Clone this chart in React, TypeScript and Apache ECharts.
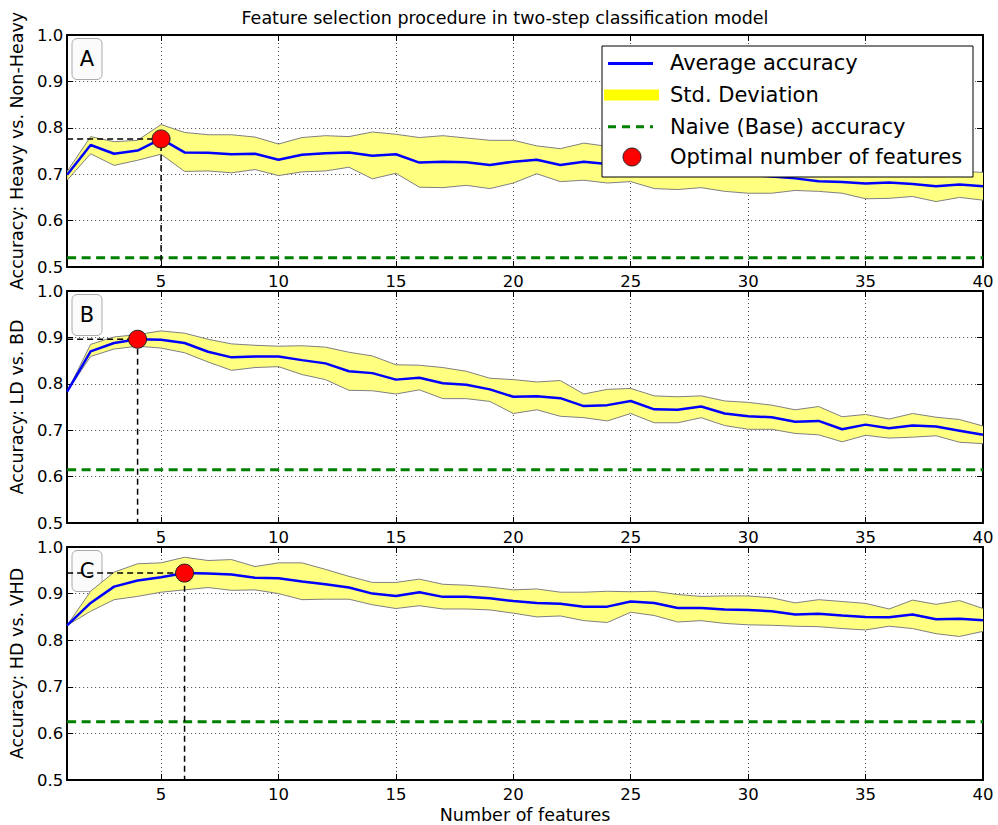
import React, { useEffect, useRef } from "react";
import * as echarts from "echarts";

const FONT = "DejaVu Sans";

const features = [1, 2, 3, 4, 5, 6, 7, 8, 9, 10, 11, 12, 13, 14, 15, 16, 17, 18, 19, 20,
  21, 22, 23, 24, 25, 26, 27, 28, 29, 30, 31, 32, 33, 34, 35, 36, 37, 38, 39, 40];
const xTicks = [5, 10, 15, 20, 25, 30, 35, 40];

const titleText = "Feature selection procedure in two-step classification model";
const xName = "Number of features";
const panelLabels = ["A", "B", "C"];
const yNames = ["Accuracy: Heavy vs. Non-Heavy", "Accuracy: LD vs. BD", "Accuracy: HD vs. VHD"];
const legendNames = ["Average accuracy", "Std. Deviation", "Naive (Base) accuracy", "Optimal number of features"];

// Panel A: Heavy vs Non-Heavy
const meanA = [0.699, 0.763, 0.744, 0.751, 0.776, 0.747, 0.746, 0.743, 0.744, 0.731,
  0.742, 0.745, 0.747, 0.740, 0.743, 0.725, 0.727, 0.726, 0.720, 0.727,
  0.731, 0.720, 0.727, 0.722, 0.716, 0.712, 0.710, 0.707, 0.703, 0.699,
  0.695, 0.691, 0.685, 0.683, 0.680, 0.682, 0.679, 0.674, 0.678, 0.674];
const upperA = [0.706, 0.781, 0.770, 0.773, 0.807, 0.790, 0.785, 0.785, 0.780, 0.765,
  0.779, 0.783, 0.781, 0.791, 0.786, 0.779, 0.783, 0.778, 0.773, 0.773,
  0.761, 0.755, 0.767, 0.760, 0.752, 0.748, 0.746, 0.744, 0.740, 0.737,
  0.733, 0.728, 0.724, 0.720, 0.716, 0.716, 0.712, 0.708, 0.706, 0.704];
const lowerA = [0.687, 0.744, 0.719, 0.730, 0.743, 0.706, 0.707, 0.703, 0.710, 0.697,
  0.705, 0.707, 0.715, 0.690, 0.702, 0.672, 0.671, 0.676, 0.669, 0.681,
  0.701, 0.684, 0.687, 0.681, 0.684, 0.669, 0.667, 0.671, 0.663, 0.659,
  0.659, 0.665, 0.663, 0.659, 0.647, 0.648, 0.652, 0.641, 0.650, 0.644];
const baseA = 0.52;
const optA = 5;

// Panel B: LD vs BD
const meanB = [0.783, 0.870, 0.888, 0.896, 0.895, 0.888, 0.869, 0.857, 0.859, 0.859,
  0.851, 0.844, 0.827, 0.823, 0.809, 0.813, 0.801, 0.798, 0.788, 0.772,
  0.773, 0.769, 0.752, 0.754, 0.763, 0.745, 0.744, 0.751, 0.736, 0.730,
  0.728, 0.718, 0.720, 0.702, 0.712, 0.704, 0.710, 0.708, 0.699, 0.690];
const upperB = [0.783, 0.885, 0.901, 0.906, 0.914, 0.909, 0.896, 0.886, 0.883, 0.881,
  0.882, 0.879, 0.868, 0.860, 0.841, 0.840, 0.835, 0.827, 0.812, 0.809,
  0.804, 0.807, 0.778, 0.788, 0.790, 0.774, 0.772, 0.774, 0.763, 0.760,
  0.754, 0.744, 0.751, 0.729, 0.734, 0.724, 0.736, 0.728, 0.723, 0.709];
const lowerB = [0.783, 0.859, 0.875, 0.881, 0.877, 0.867, 0.847, 0.829, 0.835, 0.837,
  0.820, 0.809, 0.786, 0.785, 0.778, 0.787, 0.768, 0.768, 0.762, 0.736,
  0.744, 0.730, 0.727, 0.720, 0.736, 0.716, 0.716, 0.727, 0.710, 0.702,
  0.702, 0.693, 0.690, 0.675, 0.689, 0.683, 0.685, 0.688, 0.674, 0.671];
const baseB = 0.615;
const optB = 4;

// Panel C: HD vs VHD
const meanC = [0.832, 0.880, 0.915, 0.928, 0.935, 0.944, 0.943, 0.941, 0.934, 0.933,
  0.926, 0.920, 0.913, 0.900, 0.895, 0.903, 0.893, 0.893, 0.890, 0.884,
  0.880, 0.878, 0.872, 0.872, 0.883, 0.880, 0.869, 0.869, 0.866, 0.865,
  0.862, 0.855, 0.857, 0.853, 0.850, 0.849, 0.855, 0.845, 0.846, 0.843];
const upperC = [0.832, 0.905, 0.946, 0.964, 0.966, 0.978, 0.971, 0.973, 0.958, 0.966,
  0.966, 0.952, 0.937, 0.924, 0.924, 0.931, 0.920, 0.918, 0.914, 0.908,
  0.910, 0.903, 0.903, 0.905, 0.904, 0.905, 0.898, 0.894, 0.895, 0.895,
  0.891, 0.880, 0.887, 0.883, 0.879, 0.867, 0.886, 0.877, 0.885, 0.868];
const lowerC = [0.832, 0.862, 0.887, 0.894, 0.903, 0.908, 0.913, 0.907, 0.908, 0.900,
  0.887, 0.888, 0.888, 0.876, 0.868, 0.874, 0.867, 0.867, 0.865, 0.858,
  0.850, 0.852, 0.842, 0.838, 0.860, 0.853, 0.839, 0.842, 0.836, 0.833,
  0.832, 0.830, 0.829, 0.825, 0.822, 0.830, 0.825, 0.814, 0.808, 0.819];
const baseC = 0.625;
const optC = 6;

const panels = [
  { mean: meanA, upper: upperA, lower: lowerA, base: baseA, opt: optA },
  { mean: meanB, upper: upperB, lower: lowerB, base: baseB, opt: optB },
  { mean: meanC, upper: upperC, lower: lowerC, base: baseC, opt: optC },
];

const GRID_LEFT = 65;
const GRID_WIDTH = 918;
const gridBoxes = [
  { top: 35, height: 232 },
  { top: 291, height: 232 },
  { top: 547, height: 233 },
];

function buildOption() {
  const grid: any[] = [];
  const xAxis: any[] = [];
  const yAxis: any[] = [];
  const series: any[] = [];
  const graphic: any[] = [];

  panels.forEach((p, i) => {
    const g = gridBoxes[i];
    grid.push({ left: GRID_LEFT, top: g.top, width: GRID_WIDTH, height: g.height, containLabel: false });

    const axisLine = { show: true, onZero: false, lineStyle: { color: "#000", width: 2 } };
    xAxis.push({
      type: "value", gridIndex: i, min: 1, max: 40, position: "bottom",
      axisLine,
      axisTick: { show: true, inside: true, length: 6, customValues: xTicks, lineStyle: { color: "#000", width: 1 } },
      axisLabel: { show: true, customValues: xTicks, color: "#000", fontSize: 16.5, fontFamily: FONT, margin: 6 },
      splitLine: { show: true, lineStyle: { color: "#444", width: 1, type: [1, 3] } },
      name: i === 2 ? xName : "",
      nameLocation: "middle", nameGap: 26,
      nameTextStyle: { color: "#000", fontSize: 17.5, fontFamily: FONT },
    });
    xAxis.push({
      type: "value", gridIndex: i, min: 1, max: 40, position: "top",
      axisLine,
      axisTick: { show: true, inside: true, length: 6, customValues: xTicks, lineStyle: { color: "#000", width: 1 } },
      axisLabel: { show: false },
      splitLine: { show: false },
    });
    yAxis.push({
      type: "value", gridIndex: i, min: 0.5, max: 1.0, interval: 0.1, position: "left",
      axisLine,
      axisTick: { show: true, inside: true, length: 6, lineStyle: { color: "#000", width: 1 } },
      axisLabel: { show: true, color: "#000", fontSize: 16.5, fontFamily: FONT, margin: 4,
        formatter: (v: number) => v.toFixed(1) },
      splitLine: { show: true, lineStyle: { color: "#444", width: 1, type: [1, 3] } },
      name: yNames[i], nameLocation: "middle", nameRotate: 90, nameGap: 39,
      nameTextStyle: { color: "#000", fontSize: 17.5, fontFamily: FONT },
    });
    yAxis.push({
      type: "value", gridIndex: i, min: 0.5, max: 1.0, interval: 0.1, position: "right",
      axisLine,
      axisTick: { show: true, inside: true, length: 6, lineStyle: { color: "#000", width: 1 } },
      axisLabel: { show: false },
      splitLine: { show: false },
    });

    const xi = 2 * i;
    const yi = 2 * i;
    const common = { xAxisIndex: xi, yAxisIndex: yi, symbol: "none", silent: true, animation: false };

    // std deviation band (polygon between lower and upper, via axis coordinates)
    series.push({
      type: "custom", xAxisIndex: xi, yAxisIndex: yi, silent: true, z: 2, clip: true,
      name: "band" + i,
      data: features.map((x, k) => [x, p.lower[k], p.upper[k]]),
      encode: { x: 0, y: [1, 2] },
      renderItem: (params: any, api: any) => {
        if (params.dataIndex !== 0) return null;
        const up = features.map((x, k) => api.coord([x, p.upper[k]]));
        const lo = features.map((x, k) => api.coord([x, p.lower[k]]));
        return {
          type: "group",
          children: [
            { type: "polygon", shape: { points: up.concat(lo.slice().reverse()) }, style: { fill: "#ffff80", stroke: "none" } },
            { type: "polyline", shape: { points: up }, style: { fill: "none", stroke: "#808080", lineWidth: 1 } },
            { type: "polyline", shape: { points: lo }, style: { fill: "none", stroke: "#808080", lineWidth: 1 } },
          ],
        };
      },
    });
    series.push({
      ...common, type: "line", name: "base" + i,
      data: [[features[0], p.base], [features[features.length - 1], p.base]],
      lineStyle: { color: "#008000", width: 3, type: [9, 5.5] }, z: 3,
    });
    series.push({
      ...common, type: "line", name: "mean" + i,
      data: features.map((x, k) => [x, p.mean[k]]),
      lineStyle: { color: "#0000ff", width: 2.5 }, z: 4,
    });
    const oy = p.mean[p.opt - 1];
    series.push({
      ...common, type: "line", name: "optline" + i,
      data: [[features[0], oy], [p.opt, oy], [p.opt, 0.5]],
      lineStyle: { color: "#000", width: 1.5, type: [6, 4] }, z: 5,
    });
    series.push({
      xAxisIndex: xi, yAxisIndex: yi, type: "scatter", name: "opt" + i, silent: true,
      data: [[p.opt, oy]], symbol: "circle", symbolSize: 18,
      itemStyle: { color: "#ff0000", borderColor: "#222", borderWidth: 1, opacity: 1 }, z: 6,
    });

    // panel label box
    graphic.push({
      type: "rect", z: 1,
      shape: { x: 72, y: g.top + 3.5, width: 30, height: 41, r: 5 },
      style: { fill: "#fbfbfb", stroke: "#aaaaaa", lineWidth: 1 },
    });
    graphic.push({
      type: "text", z: 1, x: 87, y: g.top + 24,
      style: { text: panelLabels[i], fontSize: 21, fontFamily: FONT, fill: "#000", align: "center", verticalAlign: "middle" },
    });
  });

  // title
  graphic.push({
    type: "text", z: 10, x: 505, y: 17.5,
    style: { text: titleText, fontSize: 17.5, fontFamily: FONT, fill: "#000", align: "center", verticalAlign: "middle" },
  });

  // legend
  const lx = 602, ly = 46;
  graphic.push({ type: "rect", z: 100, shape: { x: lx, y: ly, width: 371, height: 131 },
    style: { fill: "#fff", stroke: "#000", lineWidth: 1 } });
  graphic.push({ type: "line", z: 101, shape: { x1: 608, y1: 63.5, x2: 653, y2: 63.5 },
    style: { stroke: "#0000ff", lineWidth: 3 } });
  graphic.push({ type: "rect", z: 101, shape: { x: 604, y: 89.5, width: 55, height: 11 },
    style: { fill: "#ffff00" } });
  graphic.push({ type: "line", z: 101, shape: { x1: 608, y1: 126.8, x2: 653, y2: 126.8 },
    style: { stroke: "#008000", lineWidth: 3, lineDash: [8, 6] } });
  graphic.push({ type: "circle", z: 101, shape: { cx: 632, cy: 157, r: 9 },
    style: { fill: "#ff0000", stroke: "#222", lineWidth: 1 } });
  const rowY = [63.3, 95, 126.8, 156.8];
  legendNames.forEach((t, k) => {
    graphic.push({ type: "text", z: 101, x: 670, y: rowY[k],
      style: { text: t, fontSize: 21, fontFamily: FONT, fill: "#000", align: "left", verticalAlign: "middle" } });
  });

  return {
    animation: false,
    backgroundColor: "#fff",
    textStyle: { fontFamily: FONT },
    grid, xAxis, yAxis, series, graphic,
  };
}

export default function App() {
  const ref = useRef<HTMLDivElement>(null);
  useEffect(() => {
    if (!ref.current) return;
    const chart = echarts.init(ref.current, undefined, { renderer: "svg" });
    chart.setOption(buildOption() as any);
    return () => chart.dispose();
  }, []);
  return (
    <div
      ref={ref}
      style={{ position: "absolute", left: 0, top: 0, width: 998, height: 825, background: "#fff" }}
    />
  );
}
